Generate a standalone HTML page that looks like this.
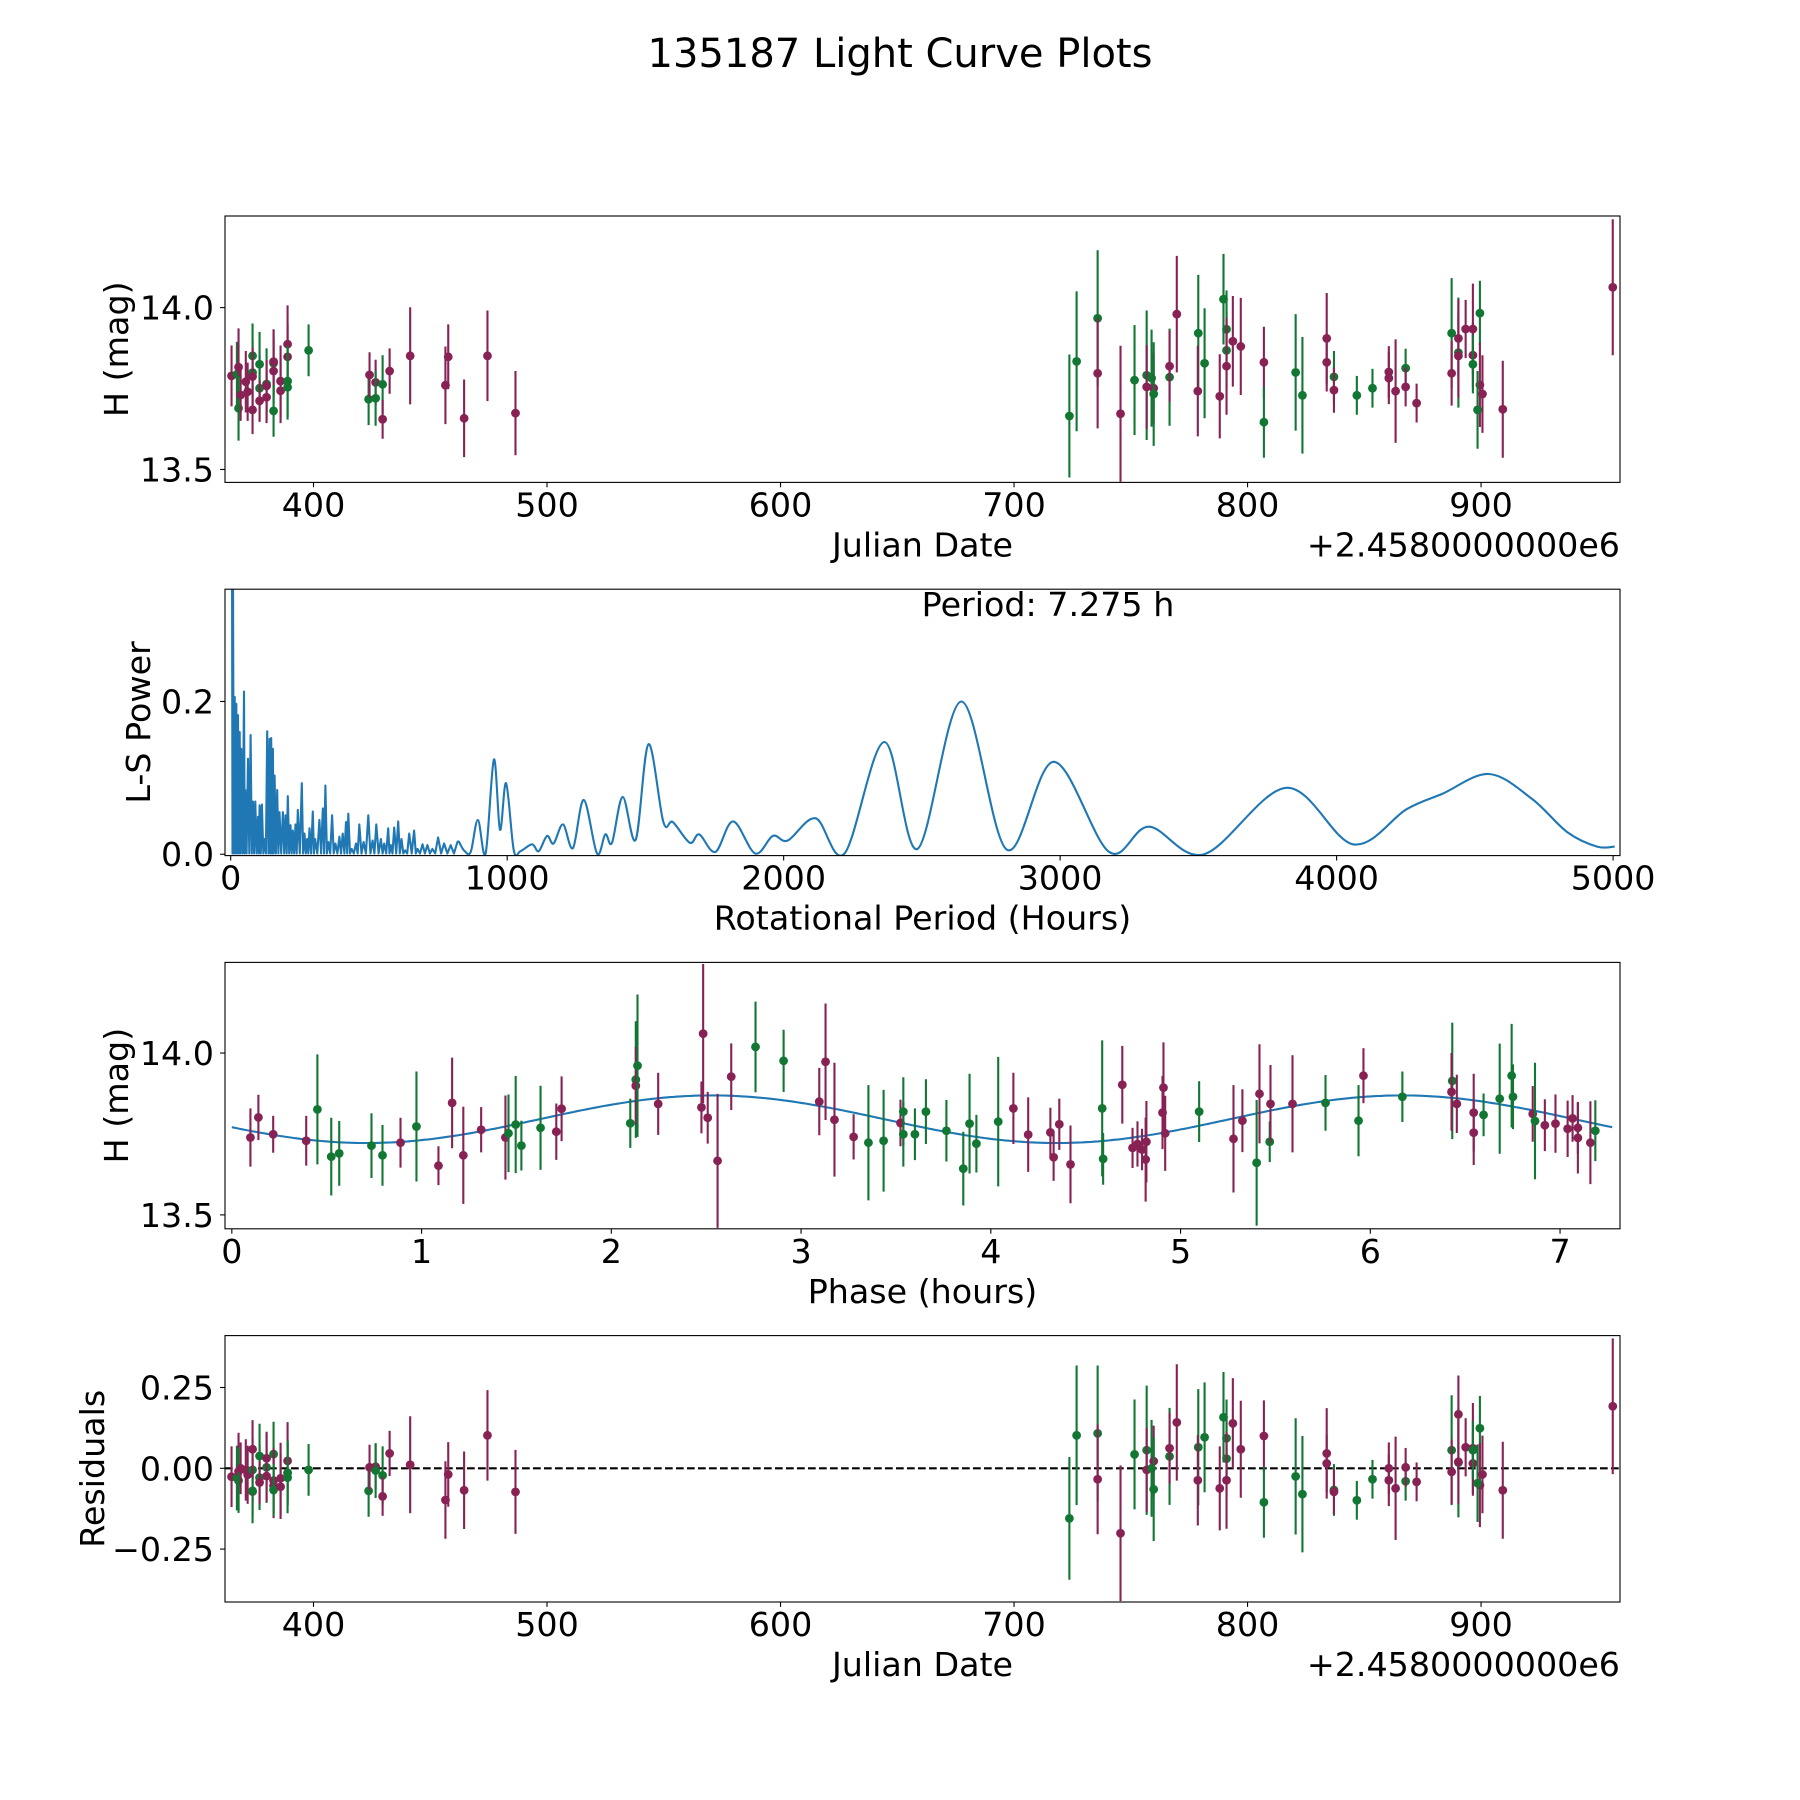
<!DOCTYPE html>
<html><head><meta charset="utf-8"><style>
html,body{margin:0;padding:0;background:#fff;}
svg{display:block;font-family:"DejaVu Sans","Liberation Sans",sans-serif;}
</style></head><body>
<svg id="fig" width="1800" height="1800" viewBox="0 0 1800 1800" xmlns="http://www.w3.org/2000/svg">
<rect width="1800" height="1800" fill="#fff"/>
<text x="900" y="67" font-size="40" text-anchor="middle">135187 Light Curve Plots</text>
</svg>
<script>
// ---------- Panel 1 / 4 data: Julian date (offset 2458000), magnitude, error, band ----------
const jd = [364.9,367.2,367.9,367.9,368.8,371.0,371.8,373.9,373.9,373.9,373.9,376.9,376.9,376.9,379.9,379.9,379.9,382.9,382.9,382.9,382.9,385.9,385.9,388.9,388.9,388.9,388.9,397.9,423.6,424.0,426.6,426.6,429.6,429.6,432.6,441.4,456.5,457.7,464.5,474.5,486.5,
723.7,726.8,735.8,735.8,745.6,751.6,756.8,756.8,758.9,759.8,759.8,766.6,766.6,769.7,778.9,778.7,781.6,788.1,789.7,791.0,791.0,791.0,793.7,797.1,807.0,807.0,820.6,823.5,833.9,833.9,837.0,837.0,846.8,853.5,860.5,860.5,863.4,867.7,867.7,872.4,887.4,887.4,890.3,890.3,890.3,893.4,896.5,896.5,896.5,899.5,899.5,898.5,900.6,909.3,956.4];
const mag = [13.789,13.794,13.816,13.689,13.73,13.771,13.74,13.684,13.851,13.799,13.787,13.825,13.751,13.712,13.764,13.758,13.723,13.828,13.833,13.804,13.681,13.773,13.743,13.887,13.848,13.773,13.754,13.868,13.717,13.792,13.769,13.72,13.763,13.655,13.804,13.851,13.76,13.848,13.658,13.851,13.674,
13.665,13.834,13.967,13.797,13.672,13.776,13.791,13.755,13.782,13.751,13.733,13.785,13.819,13.98,13.921,13.742,13.828,13.726,14.026,13.933,13.868,13.819,13.896,13.88,13.831,13.646,13.80,13.729,13.905,13.831,13.786,13.745,13.729,13.751,13.801,13.782,13.742,13.813,13.755,13.705,13.921,13.797,13.861,13.905,13.851,13.934,13.934,13.853,13.825,13.983,13.761,13.684,13.733,13.686,14.063];
const magErr = [0.094,0.1,0.12,0.1,0.08,0.095,0.09,0.075,0.1,0.1,0.09,0.1,0.1,0.065,0.11,0.08,0.08,0.1,0.1,0.1,0.08,0.11,0.1,0.12,0.1,0.11,0.1,0.08,0.08,0.07,0.07,0.085,0.09,0.06,0.07,0.15,0.12,0.1,0.12,0.14,0.13,
0.19,0.216,0.21,0.17,0.21,0.17,0.2,0.13,0.15,0.11,0.16,0.15,0.11,0.18,0.18,0.14,0.17,0.13,0.14,0.12,0.12,0.15,0.14,0.15,0.11,0.11,0.18,0.18,0.14,0.09,0.08,0.07,0.06,0.06,0.08,0.08,0.16,0.06,0.06,0.06,0.17,0.1,0.17,0.12,0.13,0.09,0.14,0.1,0.09,0.1,0.13,0.12,0.12,0.15,0.21];
const residuals = [-0.026,-0.03,-0.01,-0.038,0,-0.005,-0.02,-0.072,-0.005,-0.07,0.059,0.038,-0.029,-0.044,0.003,-0.024,0.031,0.044,-0.038,-0.054,-0.067,-0.031,-0.057,0.023,-0.014,-0.029,-0.014,-0.005,-0.07,0.003,0.005,-0.007,-0.022,-0.087,0.046,0.011,-0.098,-0.019,-0.068,0.102,-0.073,
-0.155,0.102,0.108,-0.034,-0.201,0.043,0.056,-0.005,0.0,0.022,-0.065,0.037,0.062,0.142,0.065,-0.037,0.096,-0.062,0.158,0.093,0.03,-0.037,0.139,0.059,0.1,-0.105,-0.025,-0.08,0.046,0.015,-0.067,-0.073,-0.099,-0.034,0.0,-0.037,-0.062,-0.04,0.003,-0.042,0.056,-0.011,0.018,0.167,0.02,0.065,0.062,0.015,0.056,0.124,-0.052,-0.046,-0.019,-0.068,0.192];
const band = "MGMGMMMMGG"+"MGGMGMMGMM"+"GMMMMGGGGM"+"MGGMMMMMMMM"+"GGGMMGGMGM"+"GGMMGMGMGG"+"GMMMMGGGMM"+"GMGGMMMGMM"+"GMGMMMMMGG"+"MGMMM";

// ---------- Panel 3 data: phase-folded ----------
const phase = [0.098,0.140,0.218,0.392,0.451,0.524,0.566,0.736,0.794,0.889,0.973,1.089,1.161,1.220,1.314,1.442,1.458,1.496,1.526,1.627,1.710,1.738,2.100,2.129,2.129,2.138,2.247,2.475,2.484,2.508,2.560,2.632,2.760,2.908,3.096,3.129,3.176,3.277,3.355,3.435,3.524,3.539,3.539,3.60,
3.658,3.766,3.855,3.888,3.924,4.039,4.119,4.197,4.314,4.331,4.361,4.42,4.587,4.592,4.693,4.747,4.773,4.797,4.816,4.820,4.905,4.910,4.919,5.098,5.279,5.326,5.401,5.416,5.47,5.474,5.59,5.764,5.938,5.964,6.169,6.432,6.428,6.456,6.545,6.545,6.597,6.682,6.745,6.752,6.856,6.868,6.92,6.976,7.04,7.066,7.094,7.094,7.16,7.186];
const phaseMag = [13.739,13.801,13.749,13.729,13.826,13.680,13.690,13.714,13.684,13.723,13.773,13.652,13.846,13.684,13.763,13.739,13.752,13.779,13.714,13.769,13.757,13.828,13.783,13.918,13.899,13.961,13.843,13.832,14.06,13.80,13.667,13.927,14.019,13.976,13.85,13.973,13.794,13.741,13.723,13.729,13.784,13.819,13.749,13.749,
13.819,13.760,13.643,13.782,13.72,13.788,13.829,13.748,13.755,13.678,13.780,13.656,13.829,13.673,13.902,13.707,13.719,13.702,13.671,13.726,13.816,13.893,13.752,13.819,13.735,13.791,13.661,13.874,13.726,13.843,13.843,13.846,13.791,13.930,13.865,13.914,13.880,13.843,13.816,13.754,13.809,13.859,13.930,13.865,13.812,13.790,13.777,13.782,13.766,13.798,13.738,13.769,13.723,13.760];
const phaseErr = [0.09,0.07,0.057,0.077,0.17,0.12,0.1,0.1,0.094,0.077,0.17,0.06,0.14,0.15,0.07,0.13,0.12,0.15,0.077,0.13,0.087,0.1,0.076,0.18,0.12,0.22,0.096,0.08,0.215,0.08,0.207,0.103,0.14,0.096,0.104,0.18,0.176,0.07,0.178,0.157,0.072,0.106,0.1,0.08,
0.1,0.095,0.114,0.154,0.089,0.2,0.11,0.115,0.076,0.073,0.079,0.12,0.21,0.08,0.12,0.062,0.07,0.064,0.13,0.126,0.113,0.14,0.116,0.094,0.166,0.097,0.194,0.153,0.063,0.12,0.15,0.086,0.11,0.085,0.078,0.18,0.12,0.09,0.12,0.1,0.066,0.17,0.16,0.1,0.086,0.18,0.08,0.09,0.087,0.072,0.11,0.08,0.128,0.094];
const phaseBand = "MMMMGGGGGM"+"GMMMMMGGGG"+"MMGGMGMMMM"+"MMGGMMMMGG"+"MGGG"+"GGGGG"+"GMMMMMMGGM"+"MMMMMMMMGM"+"MGMGMMGGMG"+"GMMMMGGGGM"+"GMMMMMMMG";
// fitted model parameters (mean mag, amplitude, phase of maximum, rotation period)
const modelMean = 13.7955, modelAmp = 0.0735, modelPeak = 2.53, rotPeriod = 7.275;

// ---------- Panel 2 data: Lomb-Scargle periodogram ----------
const noisePeriods = [4.8,8.4,14.4,20.4,26.4,32.5,38.5,48.1,52.9,62.5,72.1,80.5,88.9,98.6,104.6,113,122.6,132.2,140.6,146.6,152.7,158.7,168.3,176.7,188.7,198.3,206.7,216.4,224.8,234.4,242.8,257.2,266.8,276.5,284.9,296.9,305.3,320.9,333,342.6,353.4,366.6,378.6,393.1,405.1,417.1,425.5,437.5,453.2,465.2,480.8,497.6,513.3,526.5,543.3,555.3,569.7,579.4,591.4,605.8,617.8,631.1,645.5,663.5,675.5,693.6,711.6,729.6,750,771.7,795.7,819.8];
const noisePowers = [0.42,0.36,0.206,0.197,0.182,0.16,0.138,0.213,0.084,0.125,0.156,0.069,0.069,0.049,0.064,0.065,0.02,0.161,0.151,0.152,0.138,0.103,0.084,0.055,0.055,0.051,0.076,0.038,0.031,0.039,0.058,0.093,0.027,0.02,0.034,0.056,0.02,0.045,0.06,0.09,0.016,0.051,0.014,0.023,0.027,0.042,0.053,0.007,0.014,0.039,0.016,0.051,0.018,0.039,0.02,0.014,0.034,0.012,0.035,0.043,0.02,0.005,0.027,0.031,0.007,0.013,0.012,0.007,0.022,0.014,0.012,0.016];
const smoothPeriods = [826,844,868,894,922,952,974,996,1024,1048,1090,1114,1144,1168,1202,1238,1277,1325,1355,1379,1418,1465,1511,1565,1599,1661,1695,1753,1817,1897,1961,2015,2116,2220,2364,2484,2643,2807,2977,3177,3321,3521,3818,4059,4253,4382,4550,4705,4834,4942,5006];
const smoothPowers = [0.016,0.005,0.003,0.045,0.001,0.124,0.032,0.093,0.005,0.004,0.013,0.004,0.024,0.014,0.039,0.008,0.071,0.001,0.026,0.015,0.075,0.019,0.144,0.042,0.042,0.015,0.026,0.003,0.043,0.001,0.024,0.018,0.047,0.001,0.147,0.007,0.2,0.006,0.121,0.003,0.036,0.0,0.087,0.013,0.059,0.079,0.105,0.073,0.029,0.01,0.01];

// ---------- ticks ----------
const jdTicks = [400,500,600,700,800,900];
const magTicks = [13.5,14.0];
const magTickLabels = ["13.5","14.0"];
const perTicks = [0,1000,2000,3000,4000,5000];
const powTicks = [0.0,0.2];
const powTickLabels = ["0.0","0.2"];
const phTicks = [0,1,2,3,4,5,6,7];
const resTicks = [-0.25,0,0.25];
const resTickLabels = ["\u22120.25","0.00","0.25"];

const NS = "http://www.w3.org/2000/svg";
const svg = document.getElementById('fig');
const L = 225, R = 1620, H = 266.4;
const tops = [216, 589.2, 962.4, 1335.6];
const COL = {M:"#882255", G:"#117733"};

function mk(tag, attrs, parent) {
  const e = document.createElementNS(NS, tag);
  for (const k in attrs) e.setAttribute(k, attrs[k]);
  (parent || svg).appendChild(e);
  return e;
}

function makePanel(idx, name, xmin, xmax, ymin, ymax) {
  const top = tops[idx], bottom = top + H;
  const g = mk('g', {});
  
  
  const cp = mk('clipPath', {id: 'clip' + idx}, g);
  mk('rect', {x: L, y: top, width: R - L, height: H}, cp);
  const plot = mk('g', {'clip-path': 'url(#clip' + idx + ')'}, g);
  
  
  return {
    g, plot, top, bottom,
    sx: v => L + (v - xmin) / (xmax - xmin) * (R - L),
    sy: v => bottom - (v - ymin) / (ymax - ymin) * H
  };
}

function frame(p, name) {
  const r = mk('rect', {x: L, y: p.top, width: R - L, height: H, fill: 'none', stroke: '#000', 'stroke-width': 1.1}, p.g);
  
  
}

function xAxis(p, ticks, labels, name) {
  ticks.forEach((t, i) => {
    const x = p.sx(t);
    const tk = mk('line', {x1: x, x2: x, y1: p.bottom, y2: p.bottom + 4.9, stroke: '#000', 'stroke-width': 1.1}, p.g);
    
    
    const tx = mk('text', {x: x, y: p.bottom + 34, 'font-size': 33.3, 'text-anchor': 'middle'}, p.g);
    tx.textContent = labels[i];
    
    
  });
}
function yAxis(p, ticks, labels, name) {
  ticks.forEach((t, i) => {
    const y = p.sy(t);
    const tk = mk('line', {x1: L - 4.9, x2: L, y1: y, y2: y, stroke: '#000', 'stroke-width': 1.1}, p.g);
    
    
    const tx = mk('text', {x: L - 11, y: y + 12, 'font-size': 33.3, 'text-anchor': 'end'}, p.g);
    tx.textContent = labels[i];
    
    
  });
}
function label(p, text, xlabel, ylabelX, name) {
  const t = mk('text', {x: (L + R) / 2, y: p.bottom + 74, 'font-size': 33.3, 'text-anchor': 'middle'}, p.g);
  t.textContent = xlabel;
  
  
  const cy = p.top + H / 2;
  const y = mk('text', {x: ylabelX, y: cy, 'font-size': 33.3, 'text-anchor': 'middle', transform: 'rotate(-90 ' + ylabelX + ' ' + cy + ')'}, p.g);
  y.textContent = text;
  
  
}
function offsetText(p, name) {
  const t = mk('text', {x: R, y: p.bottom + 74, 'font-size': 33.3, 'text-anchor': 'end'}, p.g);
  t.textContent = '+2.4580000000e6';
  
  
}
function errPoint(p, x, y, e, color, name) {
  const g = mk('g', {}, p.plot);
  
  
  mk('line', {x1: p.sx(x), x2: p.sx(x), y1: p.sy(y - e), y2: p.sy(y + e), stroke: color, 'stroke-width': 2.1}, g);
  mk('circle', {cx: p.sx(x), cy: p.sy(y), r: 4.4, fill: color}, g);
}

// ----- Panel 1: light curve -----
const p1 = makePanel(0, 'light-curve-panel', 362.1, 959.5, 13.46, 14.283);
jd.forEach((d, i) => errPoint(p1, d, mag[i], magErr[i], COL[band[i]], 'observation-point'));
frame(p1, 'light-curve');
xAxis(p1, jdTicks, jdTicks.map(String), 'light-curve');
yAxis(p1, magTicks, magTickLabels, 'light-curve');
label(p1, 'H (mag)', 'Julian Date', 128, 'light-curve');
offsetText(p1, 'light-curve');

// ----- Panel 2: periodogram -----
const p2 = makePanel(1, 'periodogram-panel', -20.6, 5025, -0.0018, 0.347);
let d = '';
noisePeriods.forEach((per, i) => {
  d += (i === 0 ? 'M' : 'L') + p2.sx(per).toFixed(1) + ' ' + p2.sy(noisePowers[i]).toFixed(1) + ' ';
  if (i < noisePeriods.length - 1) {
    const mid = (per + noisePeriods[i + 1]) / 2;
    d += 'L' + p2.sx(mid).toFixed(1) + ' ' + p2.sy(0.001).toFixed(1) + ' ';
  }
});
const pts = smoothPeriods.map((per, i) => [p2.sx(per), p2.sy(smoothPowers[i])]);
const lastN = [p2.sx(noisePeriods[noisePeriods.length - 1]), p2.sy(noisePowers[noisePowers.length - 1])];
const all = [lastN].concat(pts);
d += 'L' + all[0][0].toFixed(1) + ' ' + all[0][1].toFixed(1) + ' ';
for (let i = 0; i < all.length - 1; i++) {
  const p0 = all[Math.max(0, i - 1)], q1 = all[i], q2 = all[i + 1], p3 = all[Math.min(all.length - 1, i + 2)];
  const c1 = [q1[0] + (q2[0] - p0[0]) / 6, q1[1] + (q2[1] - p0[1]) / 6];
  const c2 = [q2[0] - (p3[0] - q1[0]) / 6, q2[1] - (p3[1] - q1[1]) / 6];
  d += 'C' + c1[0].toFixed(1) + ' ' + c1[1].toFixed(1) + ',' + c2[0].toFixed(1) + ' ' + c2[1].toFixed(1) + ',' + q2[0].toFixed(1) + ' ' + q2[1].toFixed(1) + ' ';
}
const ls = mk('path', {d: d, fill: 'none', stroke: '#1f77b4', 'stroke-width': 2.1, 'stroke-linejoin': 'round'}, p2.plot);


frame(p2, 'periodogram');
xAxis(p2, perTicks, perTicks.map(String), 'periodogram');
yAxis(p2, powTicks, powTickLabels, 'periodogram');
label(p2, 'L-S Power', 'Rotational Period (Hours)', 150, 'periodogram');
const pt = mk('text', {x: 1048, y: 616, 'font-size': 33.3, 'text-anchor': 'middle'}, p2.g);
pt.textContent = 'Period: 7.275 h';



// ----- Panel 3: phase-folded -----
const p3 = makePanel(2, 'phase-folded-panel', -0.036, 7.316, 13.457, 14.28);
let md = '';
for (let i = 0; i <= 400; i++) {
  const ph = rotPeriod * i / 400;
  const m = modelMean + modelAmp * Math.cos(2 * Math.PI * 2 * (ph - modelPeak) / rotPeriod);
  md += (i ? 'L' : 'M') + p3.sx(ph).toFixed(1) + ' ' + p3.sy(m).toFixed(1);
}
const ml = mk('path', {d: md, fill: 'none', stroke: '#1f77b4', 'stroke-width': 2.1}, p3.plot);


phase.forEach((ph, i) => errPoint(p3, ph, phaseMag[i], phaseErr[i], COL[phaseBand[i]], 'phased-point'));
frame(p3, 'phase');
xAxis(p3, phTicks, phTicks.map(String), 'phase');
yAxis(p3, magTicks, magTickLabels, 'phase');
label(p3, 'H (mag)', 'Phase (hours)', 128, 'phase');

// ----- Panel 4: residuals -----
const p4 = makePanel(3, 'residuals-panel', 362.1, 959.5, -0.4137, 0.4106);
const zl = mk('line', {x1: L, x2: R, y1: p4.sy(0), y2: p4.sy(0), stroke: '#000', 'stroke-width': 2.1, 'stroke-dasharray': '7.7,3.3'}, p4.plot);


jd.forEach((dd, i) => errPoint(p4, dd, residuals[i], magErr[i], COL[band[i]], 'residual-point'));
frame(p4, 'residuals');
xAxis(p4, jdTicks, jdTicks.map(String), 'residuals');
yAxis(p4, resTicks, resTickLabels, 'residuals');
label(p4, 'Residuals', 'Julian Date', 104, 'residuals');
offsetText(p4, 'residuals');
</script>
</body></html>
